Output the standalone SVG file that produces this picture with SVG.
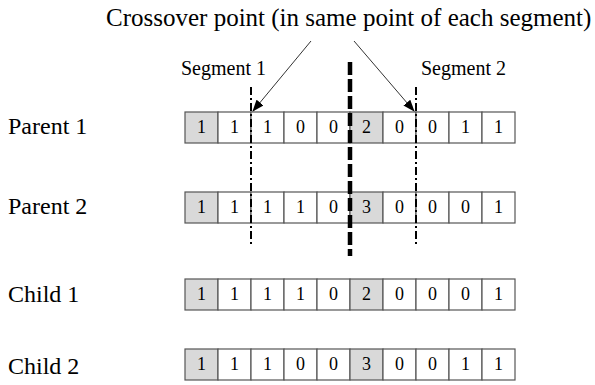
<svg xmlns="http://www.w3.org/2000/svg" width="595" height="385" viewBox="0 0 595 385" font-family="'Liberation Serif', 'Times New Roman', serif">
<defs>
<marker id="ah" markerWidth="12" markerHeight="9" refX="11" refY="4.5" orient="auto" markerUnits="userSpaceOnUse">
<path d="M0,0 L12,4.5 L0,9 Z" fill="#000"/>
</marker>
<style>
.lbl{font-size:24px}
.title{font-size:25px}
.seg{font-size:20px}
.num{font-size:18px;text-anchor:middle}
.c{fill:#fff;stroke:#555;stroke-width:1.2}
.g{fill:#d9d9d9;stroke:#555;stroke-width:1.2}
.dl{stroke:#000;stroke-width:2;stroke-dasharray:8 3 2 3;fill:none}
.dm{stroke:#000;stroke-width:4.5;stroke-dasharray:13 4;fill:none}
.ar{stroke:#333;stroke-width:1;fill:none}
</style>
</defs>
<rect width="595" height="385" fill="#fff"/>
<text class="title" x="106" y="26" font-family="'Liberation Serif', serif">Crossover point (in same point of each segment)</text>
<text class="seg" x="181" y="75" font-family="'Liberation Serif', serif">Segment 1</text>
<text class="seg" x="421" y="75" font-family="'Liberation Serif', serif">Segment 2</text>

<g id="parent1" font-family="'Liberation Serif', serif">
<text class="lbl" x="8" y="134">Parent 1</text>
<rect class="g" x="185" y="112" width="33" height="31"/><rect class="c" x="218" y="112" width="33" height="31"/><rect class="c" x="251" y="112" width="33" height="31"/><rect class="c" x="284" y="112" width="33" height="31"/><rect class="c" x="317" y="112" width="33" height="31"/><rect class="g" x="350" y="112" width="33" height="31"/><rect class="c" x="383" y="112" width="33" height="31"/><rect class="c" x="416" y="112" width="33" height="31"/><rect class="c" x="449" y="112" width="33" height="31"/><rect class="c" x="482" y="112" width="33" height="31"/>
<text class="num" y="133"><tspan x="201.5">1</tspan><tspan x="234.5">1</tspan><tspan x="267.5">1</tspan><tspan x="300.5">0</tspan><tspan x="333.5">0</tspan><tspan x="366.5">2</tspan><tspan x="399.5">0</tspan><tspan x="432.5">0</tspan><tspan x="465.5">1</tspan><tspan x="498.5">1</tspan></text>
</g>

<g id="parent2" font-family="'Liberation Serif', serif">
<text class="lbl" x="8" y="214">Parent 2</text>
<rect class="g" x="185" y="192" width="33" height="31"/><rect class="c" x="218" y="192" width="33" height="31"/><rect class="c" x="251" y="192" width="33" height="31"/><rect class="c" x="284" y="192" width="33" height="31"/><rect class="c" x="317" y="192" width="33" height="31"/><rect class="g" x="350" y="192" width="33" height="31"/><rect class="c" x="383" y="192" width="33" height="31"/><rect class="c" x="416" y="192" width="33" height="31"/><rect class="c" x="449" y="192" width="33" height="31"/><rect class="c" x="482" y="192" width="33" height="31"/>
<text class="num" y="213"><tspan x="201.5">1</tspan><tspan x="234.5">1</tspan><tspan x="267.5">1</tspan><tspan x="300.5">1</tspan><tspan x="333.5">0</tspan><tspan x="366.5">3</tspan><tspan x="399.5">0</tspan><tspan x="432.5">0</tspan><tspan x="465.5">0</tspan><tspan x="498.5">1</tspan></text>
</g>

<g id="child1" font-family="'Liberation Serif', serif">
<text class="lbl" x="8" y="302">Child 1</text>
<rect class="g" x="185" y="279" width="33" height="31"/><rect class="c" x="218" y="279" width="33" height="31"/><rect class="c" x="251" y="279" width="33" height="31"/><rect class="c" x="284" y="279" width="33" height="31"/><rect class="c" x="317" y="279" width="33" height="31"/><rect class="g" x="350" y="279" width="33" height="31"/><rect class="c" x="383" y="279" width="33" height="31"/><rect class="c" x="416" y="279" width="33" height="31"/><rect class="c" x="449" y="279" width="33" height="31"/><rect class="c" x="482" y="279" width="33" height="31"/>
<text class="num" y="300"><tspan x="201.5">1</tspan><tspan x="234.5">1</tspan><tspan x="267.5">1</tspan><tspan x="300.5">1</tspan><tspan x="333.5">0</tspan><tspan x="366.5">2</tspan><tspan x="399.5">0</tspan><tspan x="432.5">0</tspan><tspan x="465.5">0</tspan><tspan x="498.5">1</tspan></text>
</g>

<g id="child2" font-family="'Liberation Serif', serif">
<text class="lbl" x="8" y="374">Child 2</text>
<rect class="g" x="185" y="349" width="33" height="31"/><rect class="c" x="218" y="349" width="33" height="31"/><rect class="c" x="251" y="349" width="33" height="31"/><rect class="c" x="284" y="349" width="33" height="31"/><rect class="c" x="317" y="349" width="33" height="31"/><rect class="g" x="350" y="349" width="33" height="31"/><rect class="c" x="383" y="349" width="33" height="31"/><rect class="c" x="416" y="349" width="33" height="31"/><rect class="c" x="449" y="349" width="33" height="31"/><rect class="c" x="482" y="349" width="33" height="31"/>
<text class="num" y="370"><tspan x="201.5">1</tspan><tspan x="234.5">1</tspan><tspan x="267.5">1</tspan><tspan x="300.5">0</tspan><tspan x="333.5">0</tspan><tspan x="366.5">3</tspan><tspan x="399.5">0</tspan><tspan x="432.5">0</tspan><tspan x="465.5">1</tspan><tspan x="498.5">1</tspan></text>
</g>

<g id="connectors">
<line class="dl" x1="251" y1="87" x2="251" y2="245"/>
<line class="dl" x1="416" y1="87" x2="416" y2="245"/>
<line class="dm" x1="350" y1="62" x2="350" y2="256"/>
<line class="ar" x1="311" y1="41" x2="253" y2="111" marker-end="url(#ah)"/>
<line class="ar" x1="354" y1="41" x2="414" y2="111" marker-end="url(#ah)"/>
</g>
</svg>
